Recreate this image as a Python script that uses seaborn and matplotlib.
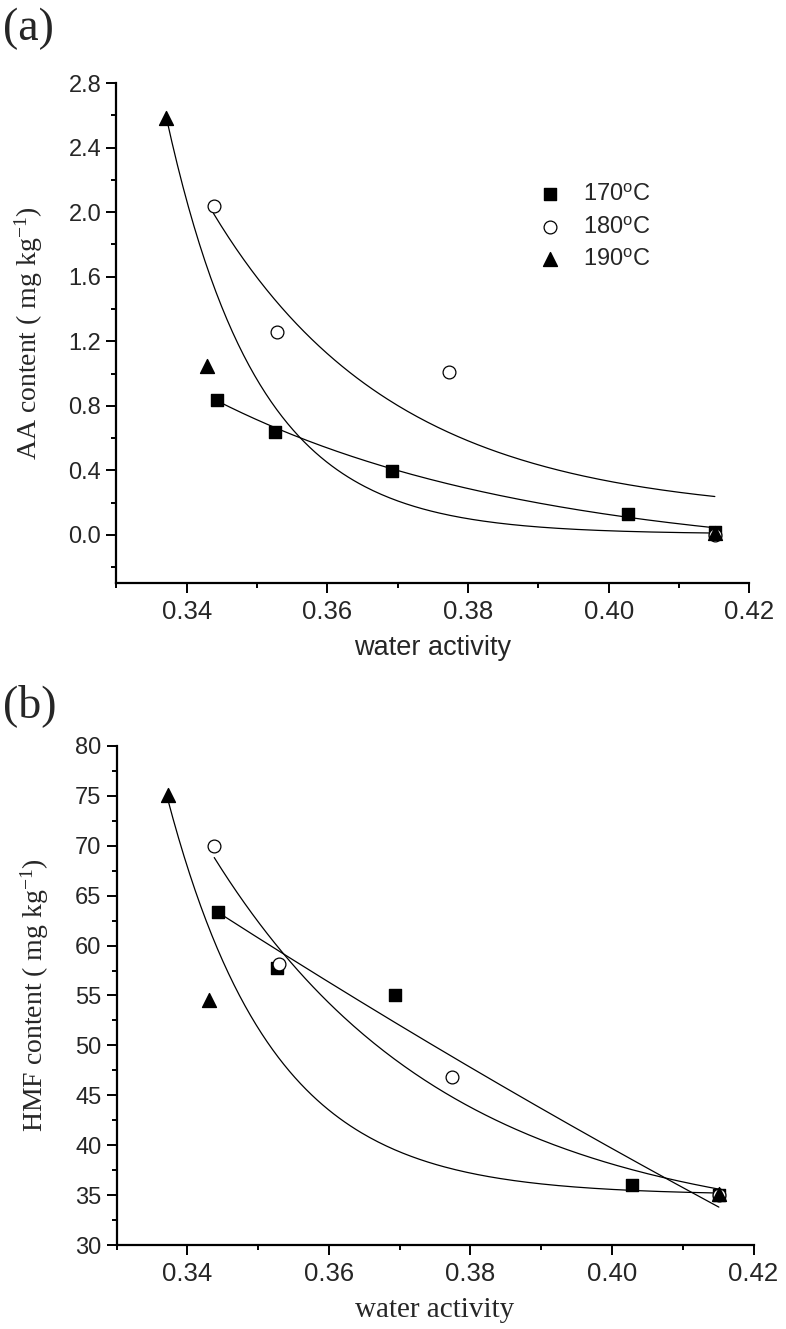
import numpy as np
import matplotlib
matplotlib.use("Agg")
import matplotlib.pyplot as plt
import seaborn as sns
from matplotlib.ticker import MultipleLocator, FormatStrFormatter

# (a) AA content vs water activity
aa_aw_170 = [0.3443, 0.3526, 0.3692, 0.4028, 0.4151]
aa_170 = [0.837, 0.639, 0.396, 0.131, 0.017]
aa_aw_180 = [0.3438, 0.3529, 0.3773, 0.4151]
aa_180 = [2.036, 1.258, 1.007, 0.0]
aa_aw_190 = [0.3371, 0.3429, 0.4151]
aa_190 = [2.586, 1.044, 0.010]

# (b) HMF content vs water activity
hmf_aw_170 = [0.3444, 0.3526, 0.3694, 0.4028, 0.4151]
hmf_170 = [63.37, 57.74, 55.0, 35.97, 35.0]
hmf_aw_180 = [0.3438, 0.3530, 0.3774, 0.4151]
hmf_180 = [69.96, 58.18, 46.87, 35.0]
hmf_aw_190 = [0.3372, 0.3430, 0.4151]
hmf_190 = [75.1, 54.5, 35.1]

# exponential decay fits: y0, A, t  (y = y0 + A*exp(-(x-xmin)/t))
aa_fit = {"170": (-0.162, 0.993, 0.045), "180": (0.117, 1.875, 0.026), "190": (0.005, 2.58, 0.013)}
hmf_fit = {"170": (-118.8, 182.1, 0.4), "180": (31.27, 37.55, 0.033), "190": (35.0, 39.75, 0.0148)}

aa_ticks = [0.0, 0.4, 0.8, 1.2, 1.6, 2.0, 2.4, 2.8]
hmf_ticks = [30, 35, 40, 45, 50, 55, 60, 65, 70, 75, 80]
aw_ticks = [0.34, 0.36, 0.38, 0.40, 0.42]

sns.set_style("ticks")
plt.rcParams["font.family"] = ["Liberation Sans", "DejaVu Sans"]
plt.rcParams["mathtext.fontset"] = "custom"
plt.rcParams["mathtext.rm"] = "Liberation Serif"
plt.rcParams["mathtext.sf"] = "Liberation Sans"
plt.rcParams["mathtext.it"] = "Liberation Serif:italic"

styles = {
    "170": dict(marker="s", color="black", edgecolor="black", s=65),
    "180": dict(marker="o", color="white", edgecolor="black", s=85, linewidth=0.9),
    "190": dict(marker="^", color="black", edgecolor="black", s=100),
}


def draw_panel(ax, series, fits):
    for key, (xs, ys) in series.items():
        y0, a, t = fits[key]
        xf = np.linspace(min(xs), max(xs), 200)
        yf = y0 + a * np.exp(-(xf - min(xs)) / t)
        sns.lineplot(x=xf, y=yf, color="black", linewidth=0.9, sort=False, estimator=None, ax=ax, zorder=2)
    handles = []
    for key, (xs, ys) in series.items():
        h = ax.scatter(xs, ys, zorder=3, label=f"{key}$^\\mathsf{{o}}$C", **styles[key])
        handles.append(h)
    sns.despine(ax=ax)
    for side in ["left", "bottom"]:
        ax.spines[side].set_linewidth(1.6)
        ax.spines[side].set_color("black")
    ax.xaxis.set_minor_locator(MultipleLocator(0.01))
    ax.tick_params(which="major", length=7, width=1.4, color="black")
    ax.tick_params(which="minor", length=3.5, width=1.4, color="black")
    ax.tick_params(axis="x", labelsize=18.5, pad=5)
    ax.tick_params(axis="y", labelsize=17, pad=4)
    ax.set_xlim(0.33, 0.42)
    ax.set_xticks(aw_ticks)
    ax.xaxis.set_major_formatter(FormatStrFormatter("%.2f"))
    ax.grid(False)
    return handles


fig = plt.figure(figsize=(7.86, 13.29), dpi=100)
ax1 = fig.add_axes([0.1482, 0.5611, 0.8051, 0.3764])
ax2 = fig.add_axes([0.1483, 0.0632, 0.8104, 0.3755])

handles = draw_panel(
    ax1,
    {"170": (aa_aw_170, aa_170), "180": (aa_aw_180, aa_180), "190": (aa_aw_190, aa_190)},
    aa_fit,
)
ax1.set_ylim(-0.3, 2.8)
ax1.set_yticks(aa_ticks)
ax1.yaxis.set_minor_locator(MultipleLocator(0.2))
ax1.yaxis.set_major_formatter(FormatStrFormatter("%.1f"))
ax1.set_xlabel("water activity", fontsize=19.5, labelpad=8)
ax1.set_ylabel("AA content ( mg kg$^{\\mathrm{-1}}$)", fontsize=20, family="Liberation Serif", labelpad=17)
ax1.legend(
    handles=handles,
    loc="upper left",
    bbox_to_anchor=(0.666, 0.80),
    frameon=False,
    fontsize=17,
    handlelength=1.0,
    handletextpad=0.9,
    labelspacing=0.45,
    borderpad=0,
    borderaxespad=0,
)

draw_panel(
    ax2,
    {"170": (hmf_aw_170, hmf_170), "180": (hmf_aw_180, hmf_180), "190": (hmf_aw_190, hmf_190)},
    hmf_fit,
)
ax2.set_ylim(30, 80)
ax2.set_yticks(hmf_ticks)
ax2.yaxis.set_minor_locator(MultipleLocator(2.5))
ax2.set_xlabel("water activity", fontsize=21, family="Liberation Serif", labelpad=8)
ax2.set_ylabel("HMF content ( mg kg$^{\\mathrm{-1}}$)", fontsize=20, family="Liberation Serif", labelpad=17)

fig.text(0.004, 1 - 8 / 1329, "(a)", family="Liberation Serif", fontsize=33, va="top")
fig.text(0.004, 1 - 684 / 1329, "(b)", family="Liberation Serif", fontsize=33, va="top")

fig.savefig("out.png", dpi=100)
